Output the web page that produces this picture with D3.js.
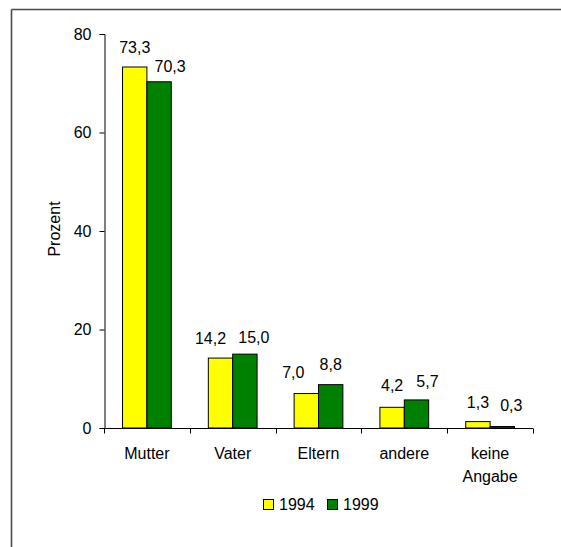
<!DOCTYPE html>
<html>
<head>
<meta charset="utf-8">
<script src="https://cdn.jsdelivr.net/npm/d3@7"></script>
<style>
  html, body { margin: 0; padding: 0; background: #fff; }
  svg { display: block; }
  text { font-family: Arial, "Liberation Sans", sans-serif; fill: #000; }
</style>
</head>
<body>
<svg id="chart" width="561" height="547"></svg>
<script>
// Who answers for the child: shares in percent, 1994 vs 1999
const categories = [["Mutter"], ["Vater"], ["Eltern"], ["andere"], ["keine", "Angabe"]];
const years = ["1994", "1999"];
const values1994 = [73.3, 14.2, 7.0, 4.2, 1.3];
const values1999 = [70.3, 15.0, 8.8, 5.7, 0.3];
const yTicks = [0, 20, 40, 60, 80];
const colors = ["#FFFF00", "#008000"];

// small hand placements of the value labels (dx, dy) so neighbours stay apart
const labelNudge = [
  [[0, 0], [11, 4]],
  [[-10, 0], [9, 3]],
  [[-13, -2], [0, -1]],
  [[0, -2], [11, 1]],
  [[0, 0], [9, -2]]
];

const fmt = v => v.toFixed(1).replace(".", ",");
const FS = 16;

const svg = d3.select("#chart");

// frame lines
svg.append("line").attr("x1", 11.5).attr("x2", 561).attr("y1", 9.5).attr("y2", 9.5)
  .attr("stroke", "#4a4a4a").attr("stroke-width", 1.6);
svg.append("line").attr("x1", 11.5).attr("x2", 11.5).attr("y1", 9.5).attr("y2", 547)
  .attr("stroke", "#4a4a4a").attr("stroke-width", 1.6);

const plot = { left: 104, right: 533, top: 34, bottom: 428 };

const x = d3.scaleBand()
  .domain(d3.range(categories.length))
  .range([plot.left, plot.right])
  .paddingInner(0).paddingOuter(0);

const inner = d3.scaleBand()
  .domain(years)
  .range([0, x.bandwidth()])
  .paddingInner(0).paddingOuter(0.76);

const y = d3.scaleLinear().domain([0, 80]).range([plot.bottom, plot.top]);

const series = [values1994, values1999];

// bars
const g = svg.append("g");
categories.forEach((c, i) => {
  years.forEach((yr, s) => {
    const v = series[s][i];
    g.append("rect")
      .attr("x", x(i) + inner(yr))
      .attr("y", y(v))
      .attr("width", inner.bandwidth())
      .attr("height", y(0) - y(v))
      .attr("fill", colors[s])
      .attr("stroke", "#000")
      .attr("stroke-width", 1);
    const [dx, dy] = labelNudge[i][s];
    g.append("text")
      .attr("x", x(i) + inner(yr) + inner.bandwidth() / 2 + dx)
      .attr("y", y(v) - 14 + dy)
      .attr("text-anchor", "middle")
      .attr("font-size", FS)
      .text(fmt(v));
  });
});

// y axis
const yAxis = d3.axisLeft(y).tickValues(yTicks).tickSize(5).tickPadding(8);
const ya = svg.append("g").attr("transform", `translate(${plot.left + 0.5},0)`).call(yAxis);
ya.selectAll("text").attr("font-size", FS).attr("font-family", "Arial, 'Liberation Sans', sans-serif").attr("fill", "#000");
ya.selectAll("line,path").attr("stroke", "#000");

// x axis: ticks at category boundaries
const xa = svg.append("g").attr("transform", `translate(0,${plot.bottom + 0.5})`);
xa.append("line").attr("x1", plot.left).attr("x2", plot.right).attr("stroke", "#000");
d3.range(categories.length + 1).forEach(k => {
  const px = Math.round(plot.left + k * x.bandwidth()) + 0.5;
  xa.append("line").attr("x1", px).attr("x2", px).attr("y1", 0).attr("y2", 5).attr("stroke", "#000");
});
categories.forEach((lines, i) => {
  const t = svg.append("text")
    .attr("x", x(i) + x.bandwidth() / 2)
    .attr("y", 459)
    .attr("text-anchor", "middle")
    .attr("font-size", FS);
  lines.forEach((ln, j) => {
    t.append("tspan").attr("x", x(i) + x.bandwidth() / 2).attr("dy", j === 0 ? 0 : 23).text(ln);
  });
});

// y axis title
svg.append("text")
  .attr("transform", "translate(60,229) rotate(-90)")
  .attr("text-anchor", "middle")
  .attr("font-size", FS)
  .text("Prozent");

// legend
const legend = svg.append("g");
const legendX = [263, 327];
years.forEach((yr, s) => {
  legend.append("rect")
    .attr("x", legendX[s] + 0.5).attr("y", 499.5)
    .attr("width", 10).attr("height", 10)
    .attr("fill", colors[s]).attr("stroke", "#000");
  legend.append("text")
    .attr("x", legendX[s] + 16).attr("y", 510)
    .attr("font-size", FS)
    .text(yr);
});
</script>
</body>
</html>
